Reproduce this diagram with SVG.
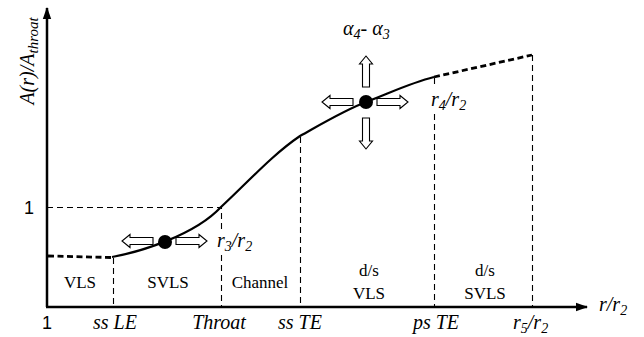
<svg xmlns="http://www.w3.org/2000/svg" width="644" height="337" viewBox="0 0 644 337">
<style>
.axis{stroke:#000;stroke-width:2.5;fill:none}
.thin{stroke:#000;stroke-width:1.1;stroke-dasharray:6,4;fill:none}
.thick{stroke:#000;stroke-width:2.8;stroke-dasharray:6,3.5;fill:none}
.curve{stroke:#000;stroke-width:2.2;fill:none}
.hol{fill:#fff;stroke:#000;stroke-width:1.1}
.reg{font-family:"Liberation Serif",serif;font-size:17px;text-anchor:middle}
.it{font-family:"Liberation Serif",serif;font-style:italic;font-size:20px}
.sans{font-family:"Liberation Sans",Arial,sans-serif;font-size:18px}
</style>
<defs>
<path id="arr" class="hol" d="M0,-3.5 H23 V-6.5 L31,0 L23,6.5 V3.5 H0 Z"/>
<marker id="ah" markerWidth="12" markerHeight="10" refX="11" refY="5" orient="auto" markerUnits="userSpaceOnUse">
<path d="M0,0.8 L12,5 L0,9.2 Z" fill="#000"/>
</marker>
</defs>
<g id="connectors">
<line class="axis" x1="47" y1="307" x2="47" y2="8" marker-end="url(#ah)"/>
<line class="axis" x1="46" y1="307" x2="587" y2="307" marker-end="url(#ah)"/>
<path class="thin" d="M47,207.5 H221.5 V230"/>
<line class="thin" x1="221.5" y1="255" x2="221.5" y2="307"/>
<line class="thin" x1="113.5" y1="258" x2="113.5" y2="307"/>
<line class="thin" x1="300.5" y1="137" x2="300.5" y2="307"/>
<line class="thin" x1="434.5" y1="78" x2="434.5" y2="84"/>
<line class="thin" x1="434.5" y1="114" x2="434.5" y2="307"/>
<line class="thin" x1="532.5" y1="55" x2="532.5" y2="307"/>
<path class="thick" d="M48,256 L112,257.5"/>
<path class="thick" d="M434,77 L532,55"/>
<path class="curve" d="M112,257 C140,252 195,235 221,207 C248,182 272,155 300,136 C325,122 345,110 366,102 C390,93 410,83 434,77"/>
</g>
<g id="point1">
<circle cx="165" cy="242" r="7"/>
<use href="#arr" transform="translate(153,241) rotate(180)"/>
<use href="#arr" transform="translate(176,241)"/>
</g>
<g id="point2">
<circle cx="366" cy="102" r="7"/>
<use href="#arr" transform="translate(366,87) rotate(-90)"/>
<use href="#arr" transform="translate(366,118) rotate(90)"/>
<use href="#arr" transform="translate(353,102) rotate(180)"/>
<use href="#arr" transform="translate(377,102)"/>
</g>
<g id="regions">
<text class="reg" x="80" y="288">VLS</text>
<text class="reg" x="168" y="288">SVLS</text>
<text class="reg" x="260" y="288">Channel</text>
<text class="reg" x="369" y="276">d/s</text>
<text class="reg" x="369" y="299">VLS</text>
<text class="reg" x="485" y="276">d/s</text>
<text class="reg" x="485" y="299">SVLS</text>
</g>
<g id="labels">
<text class="sans" x="34" y="214" text-anchor="end">1</text>
<text class="sans" x="47" y="329" text-anchor="middle">1</text>
<text class="it" x="115" y="329" text-anchor="middle">ss LE</text>
<text class="it" x="219" y="329" text-anchor="middle">Throat</text>
<text class="it" x="300" y="329" text-anchor="middle">ss TE</text>
<text class="it" x="436" y="329" text-anchor="middle">ps TE</text>
<text class="it" x="513" y="329">r<tspan font-size="14" dy="4">5</tspan><tspan dy="-4">/r</tspan><tspan font-size="14" dy="4">2</tspan></text>
<text class="it" x="599" y="311">r/r<tspan font-size="14" dy="4">2</tspan></text>
<text class="it" x="217" y="247">r<tspan font-size="14" dy="4">3</tspan><tspan dy="-4">/r</tspan><tspan font-size="14" dy="4">2</tspan></text>
<text class="it" x="431" y="106">r<tspan font-size="14" dy="4">4</tspan><tspan dy="-4">/r</tspan><tspan font-size="14" dy="4">2</tspan></text>
<text class="it" x="343" y="35">α<tspan font-size="14" dy="4">4</tspan><tspan dy="-4">- α</tspan><tspan font-size="14" dy="4">3</tspan></text>
<text class="it" transform="translate(34,61) rotate(-90)" text-anchor="middle">A(r)/A<tspan font-size="15" dy="4">throat</tspan></text>
</g>
</svg>
